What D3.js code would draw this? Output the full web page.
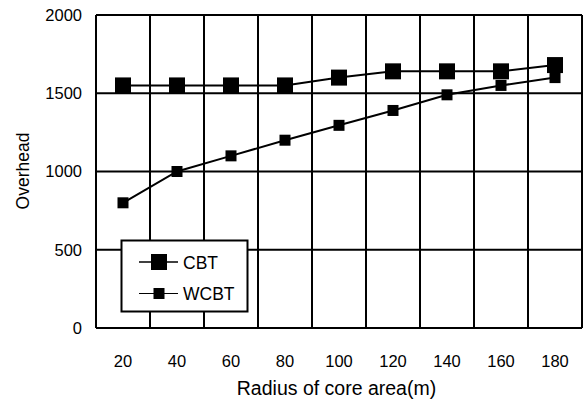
<!DOCTYPE html>
<html><head><meta charset="utf-8">
<script src="https://cdn.jsdelivr.net/npm/d3@7"></script>
<style>body{margin:0;background:#fff}svg{display:block}text{font-family:"Liberation Sans",Arial,sans-serif;fill:#000}</style>
</head><body><svg id="c" width="584" height="401"></svg>
<script>
const categories = [20,40,60,80,100,120,140,160,180];
const cbt  = [1550,1550,1550,1550,1600,1640,1640,1640,1680];
const wcbt = [800,1000,1100,1200,1295,1390,1490,1550,1600];
const yTicks = [0,500,1000,1500,2000];
const seriesNames = ["CBT","WCBT"];

const svg = d3.select("#c");
const m = {l:96,r:582,t:15,b:328};
const x = d3.scaleBand().domain(categories).range([m.l,m.r]).padding(0);
const y = d3.scaleLinear().domain([0,2000]).range([m.b,m.t]);

// grid
const g = svg.append("g").attr("stroke","#000").attr("stroke-width",2);
yTicks.forEach(v=>g.append("line").attr("x1",m.l).attr("x2",m.r).attr("y1",y(v)).attr("y2",y(v)));
categories.forEach(c=>g.append("line").attr("x1",x(c)).attr("x2",x(c)).attr("y1",m.t).attr("y2",m.b));
g.append("line").attr("x1",m.r).attr("x2",m.r).attr("y1",m.t).attr("y2",m.b);

// axes labels
const yAxis = d3.axisLeft(y).tickValues(yTicks).tickSize(0).tickPadding(14).tickFormat(d3.format("d"));
svg.append("g").attr("transform",`translate(${m.l},0)`).call(yAxis)
  .call(s=>s.select(".domain").remove())
  .selectAll("text").attr("font-size",16.5).attr("font-family","Liberation Sans, Arial, sans-serif");
const xAxis = d3.axisBottom(x).tickSize(0).tickPadding(27);
svg.append("g").attr("transform",`translate(0,${m.b})`).call(xAxis)
  .call(s=>s.select(".domain").remove())
  .selectAll("text").attr("font-size",16.5).attr("font-family","Liberation Sans, Arial, sans-serif");

svg.append("text").attr("x",336.5).attr("y",395).attr("text-anchor","middle").attr("font-size",19.5).text("Radius of core area(m)");
svg.append("text").attr("transform","translate(29,171) rotate(-90)").attr("text-anchor","middle").attr("font-size",17.5).text("Overhead");

// series
const line = d3.line().x((d,i)=>x(categories[i])+x.bandwidth()/2).y(d=>y(d));
function drawSeries(data, size){
  svg.append("path").attr("d",line(data)).attr("fill","none").attr("stroke","#000").attr("stroke-width",2);
  svg.append("g").selectAll("rect").data(data).join("rect")
    .attr("x",(d,i)=>x(categories[i])+x.bandwidth()/2-size/2).attr("y",d=>y(d)-size/2)
    .attr("width",size).attr("height",size).attr("fill","#000");
}
drawSeries(wcbt,11);
drawSeries(cbt,16);

// legend
const lg = svg.append("g");
lg.append("rect").attr("x",121.5).attr("y",240.5).attr("width",126).attr("height",71).attr("fill","#fff").attr("stroke","#000").attr("stroke-width",2);
const items=[{n:seriesNames[0],s:16,y:262,w:1.5},{n:seriesNames[1],s:11,y:293.5,w:1}];
items.forEach(it=>{
  lg.append("line").attr("x1",139).attr("x2",178).attr("y1",it.y).attr("y2",it.y).attr("stroke","#000").attr("stroke-width",it.w);
  lg.append("rect").attr("x",159-it.s/2).attr("y",it.y-it.s/2).attr("width",it.s).attr("height",it.s).attr("fill","#000");
  lg.append("text").attr("x",183).attr("y",it.y+6.5).attr("font-size",17.5).text(it.n);
});
</script></body></html>
